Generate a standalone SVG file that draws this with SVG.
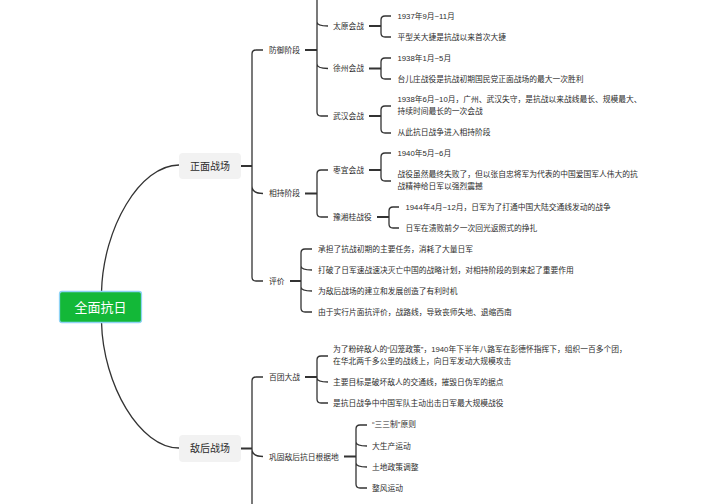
<svg xmlns="http://www.w3.org/2000/svg" width="704" height="504" viewBox="0 0 704 504">
<style>
text{font-family:"Liberation Sans","Noto Sans CJK SC",sans-serif;fill:#2c2c2c}
.l{font-size:7.75px}
.b{font-size:10px}
.c{fill:none;stroke:#333;stroke-width:1.3}
.s{fill:none;stroke:#333;stroke-width:1.8}
</style>
<rect width="704" height="504" fill="#fff"/>
<g id="connectors">
<path class="c" d="M101.500 292C103 228 140 165 179 165"/>
<path class="c" d="M101.500 322C103 385 140 448 179 448"/>
<path class="s" d="M241 166H252M305 50H317M369 26H381M369 68.500H381M369 116H381M305 193.500H317M369 170H381M377 217H389M290 281H301M241 448.500H252M305 377H317M344 456.500H356"/>
<path class="c" d="M263 50H256Q252 50 252 54V277Q252 281 256 281H263M252 186Q252 193.500 263 193.500"/>
<path class="c" d="M317 0V112Q317 116 321 116H328M317 22Q317 26 328 26M317 64Q317 68.500 328 68.500"/>
<path class="c" d="M391 16H385Q381 16 381 20V33Q381 37 385 37H391"/>
<path class="c" d="M391 58H385Q381 58 381 62V75Q381 79 385 79H391"/>
<path class="c" d="M391 106H385Q381 106 381 110V129Q381 133 385 133H391"/>
<path class="c" d="M328 170H321Q317 170 317 174V213Q317 217 321 217H328"/>
<path class="c" d="M391 153H385Q381 153 381 157V177Q381 181 385 181H391"/>
<path class="c" d="M399 207H393Q389 207 389 211V224Q389 228 393 228H399"/>
<path class="c" d="M312 249H305Q301 249 301 253V308Q301 312 305 312H312M301 266Q301 270 312 270M301 287Q301 291 312 291"/>
<path class="c" d="M263 377H256Q252 377 252 381V504M252 449Q252 456.500 263 456.500"/>
<path class="c" d="M328 356H321Q317 356 317 360V399Q317 403 321 403H328M317 378Q317 382 328 382"/>
<path class="c" d="M367 425H360Q356 425 356 429V484Q356 488 360 488H367M356 442Q356 446 367 446M356 463Q356 467 367 467"/>
</g>
<g id="root"><rect x="59.500" y="291.500" width="82" height="31" rx="2.500" fill="#13b838" stroke="#8fd3f5" stroke-width="1.300"/><text x="100.500" y="312" text-anchor="middle" font-size="13" style="fill:#fff">全面抗日</text></g>
<g id="n-zhengmian"><rect x="179" y="153" width="62" height="26" rx="4" fill="#f2f2f2"/><text class="b" x="210" y="169.500" text-anchor="middle">正面战场</text></g>
<g id="n-dihou"><rect x="179" y="435" width="62" height="27" rx="4" fill="#f2f2f2"/><text class="b" x="210" y="452" text-anchor="middle">敌后战场</text></g>
<g id="n-fangyu"><text class="l" x="269" y="53">防御阶段</text></g>
<g id="n-xiangchi"><text class="l" x="269" y="196">相持阶段</text></g>
<g id="n-pingjia"><text class="l" x="269" y="284">评价</text></g>
<g id="n-taiyuan"><text class="l" x="333" y="29">太原会战</text></g>
<g id="n-xuzhou"><text class="l" x="333" y="71">徐州会战</text></g>
<g id="n-wuhan"><text class="l" x="333" y="119">武汉会战</text></g>
<g id="n-zaoyi"><text class="l" x="333" y="173">枣宜会战</text></g>
<g id="n-yuxianggui"><text class="l" x="333" y="220">豫湘桂战役</text></g>
<g id="n-t1"><text class="l" x="397.500" y="19">1937年9月~11月</text></g>
<g id="n-t2"><text class="l" x="397.500" y="40">平型关大捷是抗战以来首次大捷</text></g>
<g id="n-x1"><text class="l" x="397.500" y="61">1938年1月~5月</text></g>
<g id="n-x2"><text class="l" x="397.500" y="82">台儿庄战役是抗战初期国民党正面战场的最大一次胜利</text></g>
<g id="n-w1"><text class="l" x="397.500" y="102">1938年6月~10月，广州、武汉失守，是抗战以来战线最长、规模最大、</text><text class="l" x="397.500" y="114">持续时间最长的一次会战</text></g>
<g id="n-w2"><text class="l" x="397.500" y="135">从此抗日战争进入相持阶段</text></g>
<g id="n-z1"><text class="l" x="397.500" y="156">1940年5月~6月</text></g>
<g id="n-z2"><text class="l" x="397.500" y="177">战役虽然最终失败了，但以张自忠将军为代表的中国爱国军人伟大的抗</text><text class="l" x="397.500" y="189">战精神给日军以强烈震撼</text></g>
<g id="n-y1"><text class="l" x="405.500" y="210">1944年4月~12月，日军为了打通中国大陆交通线发动的战争</text></g>
<g id="n-y2"><text class="l" x="405.500" y="231">日军在溃败前夕一次回光返照式的挣扎</text></g>
<g id="n-p1"><text class="l" x="318" y="252">承担了抗战初期的主要任务，消耗了大量日军</text></g>
<g id="n-p2"><text class="l" x="318" y="273">打破了日军速战速决灭亡中国的战略计划，对相持阶段的到来起了重要作用</text></g>
<g id="n-p3"><text class="l" x="318" y="294">为敌后战场的建立和发展创造了有利时机</text></g>
<g id="n-p4"><text class="l" x="318" y="315">由于实行片面抗评价，战路线，导致丧师失地、退缩西南</text></g>
<g id="n-baituan"><text class="l" x="269" y="380">百团大战</text></g>
<g id="n-gonggu"><text class="l" x="269" y="459.500">巩固敌后抗日根据地</text></g>
<g id="n-b1"><text class="l" x="333" y="352">为了粉碎敌人的“囚笼政策”，1940年下半年八路军在彭德怀指挥下，组织一百多个团，</text><text class="l" x="333" y="364">在华北两千多公里的战线上，向日军发动大规模攻击</text></g>
<g id="n-b2"><text class="l" x="333" y="385">主要目标是破坏敌人的交通线，摧毁日伪军的据点</text></g>
<g id="n-b3"><text class="l" x="333" y="406">是抗日战争中中国军队主动出击日军最大规模战役</text></g>
<g id="n-g1"><text class="l" x="372" y="427">“三三制”原则</text></g>
<g id="n-g2"><text class="l" x="372" y="449">大生产运动</text></g>
<g id="n-g3"><text class="l" x="372" y="470">土地政策调整</text></g>
<g id="n-g4"><text class="l" x="372" y="491">整风运动</text></g>
</svg>
